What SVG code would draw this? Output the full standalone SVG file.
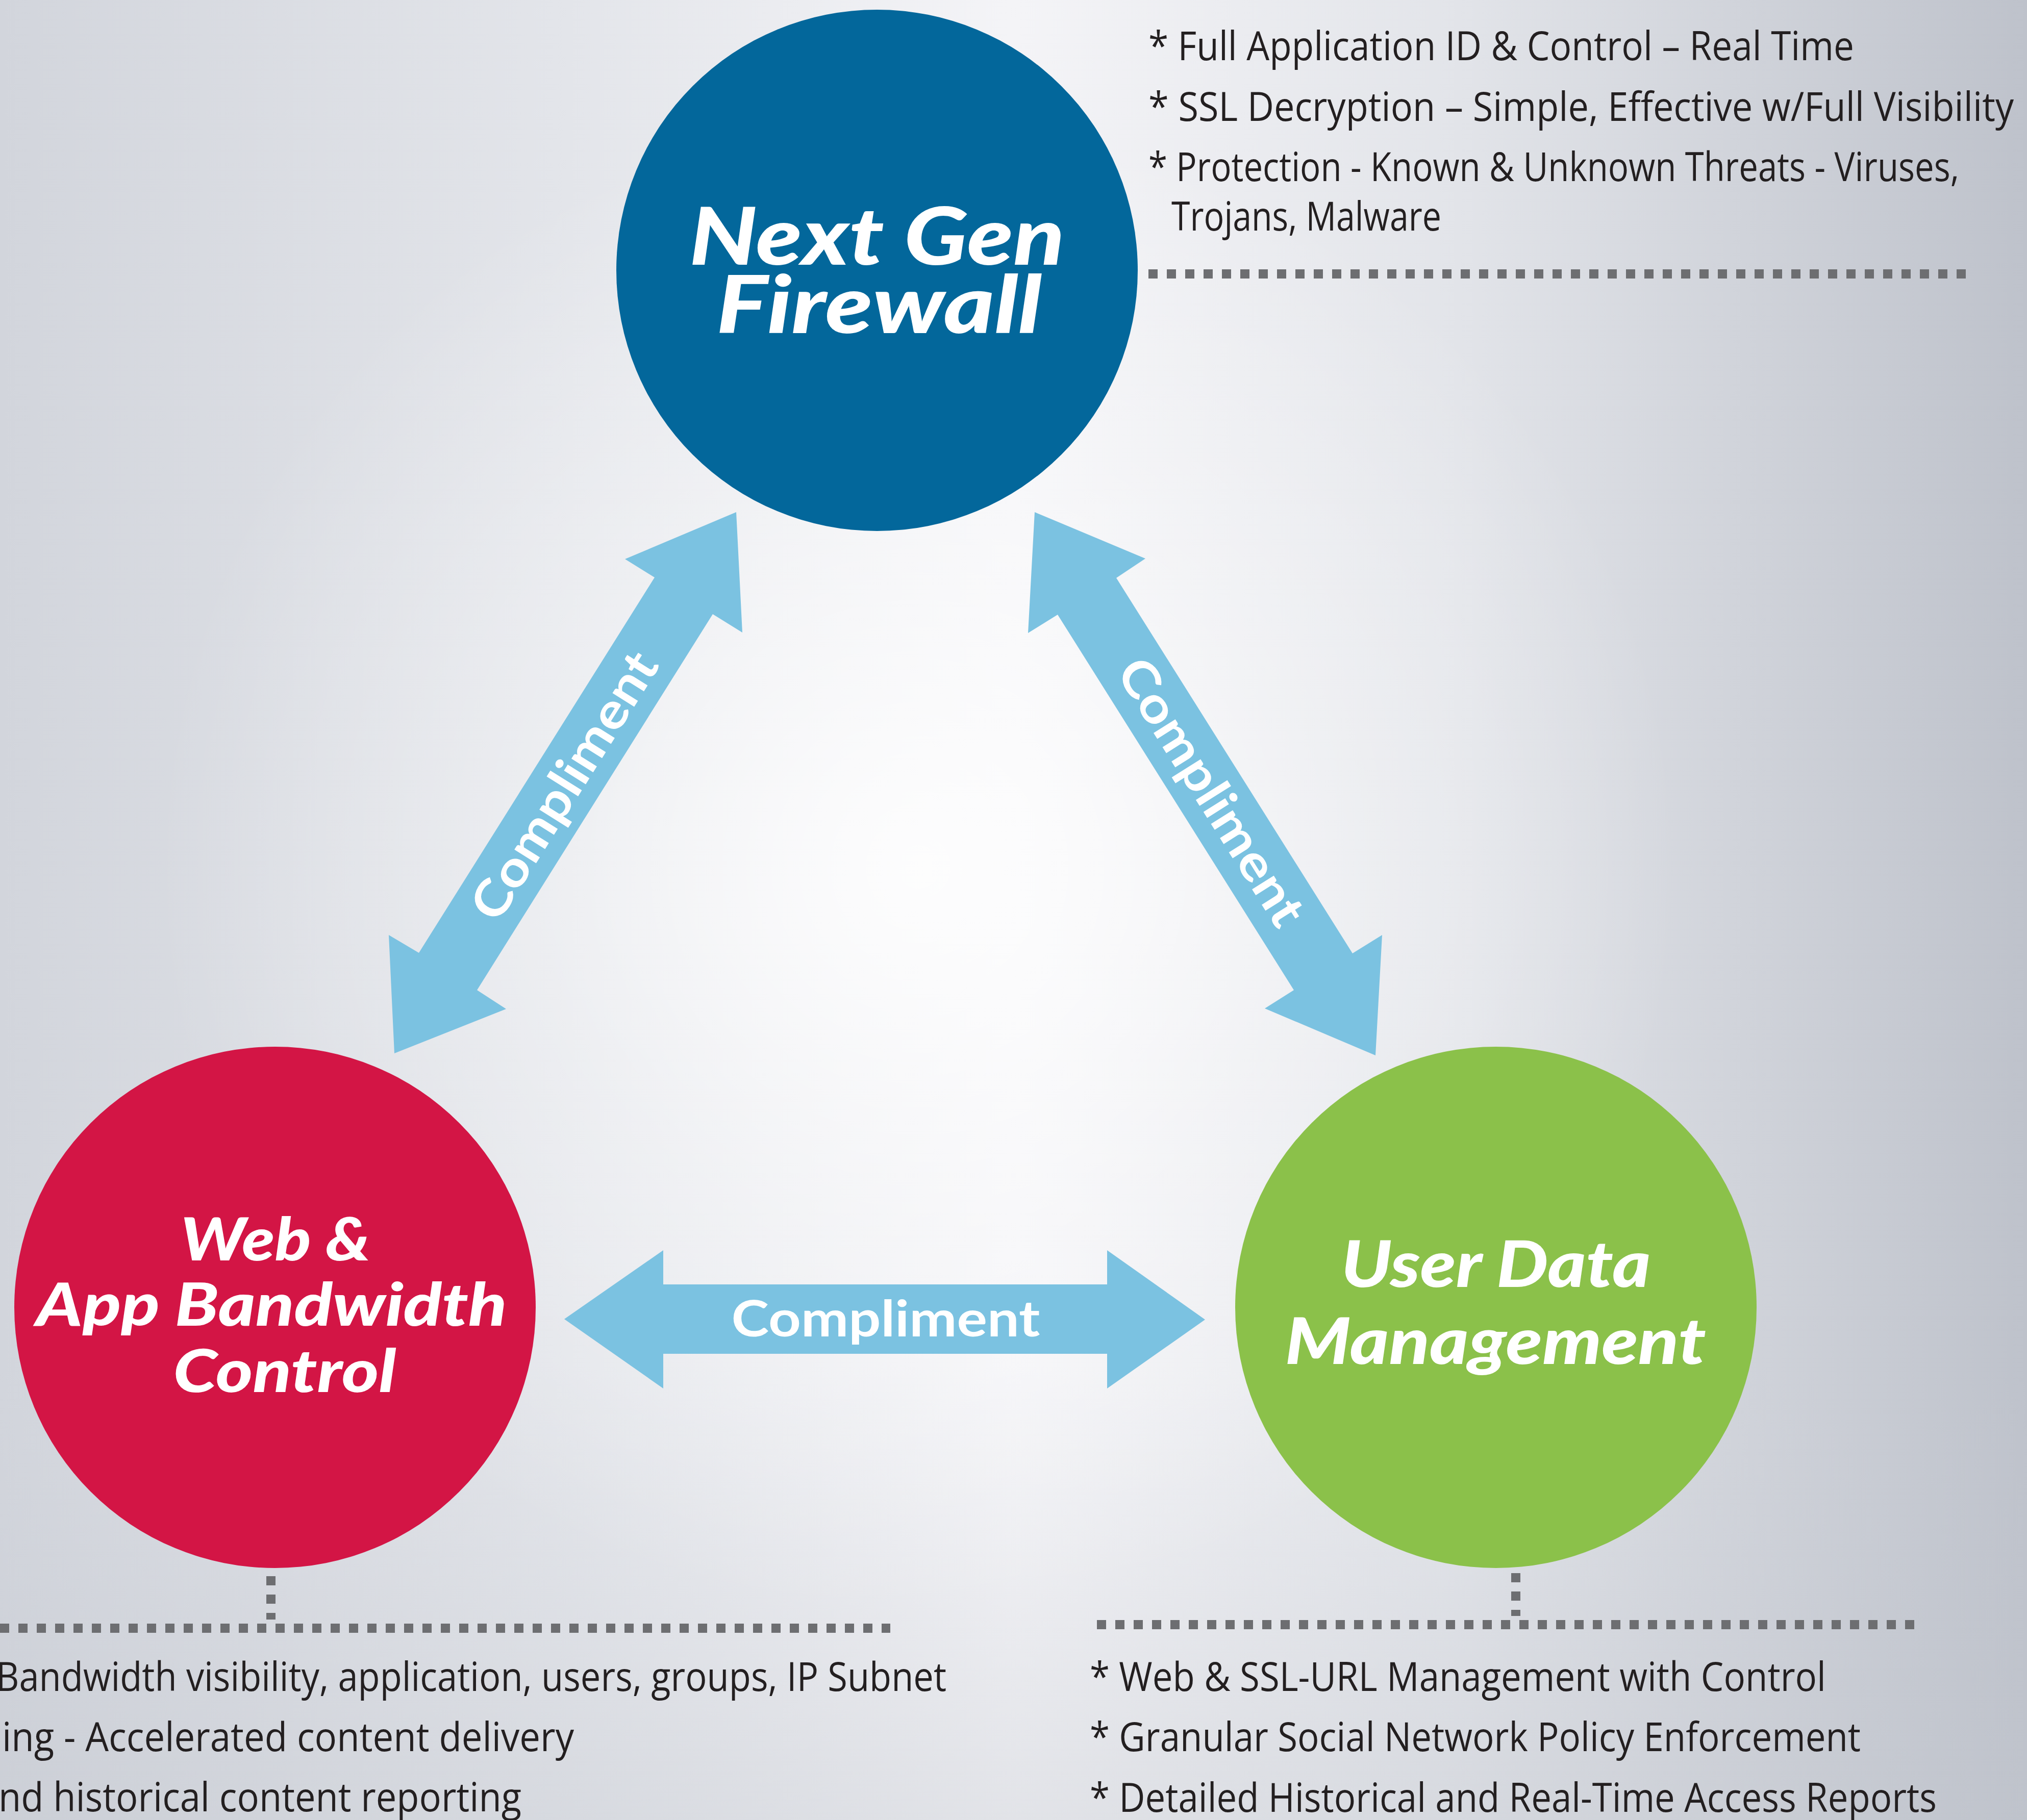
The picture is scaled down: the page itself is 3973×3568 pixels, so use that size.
<svg xmlns="http://www.w3.org/2000/svg" width="3973" height="3568" viewBox="0 0 3973 3568">
  <defs>
    <linearGradient id="bgH" x1="0" y1="0" x2="1" y2="0">
      <stop offset="0" stop-color="#d2d5dc"/>
      <stop offset="0.28" stop-color="#e3e5ea"/>
      <stop offset="0.5" stop-color="#f4f4f7"/>
      <stop offset="0.72" stop-color="#e2e4e9"/>
      <stop offset="1" stop-color="#bec2cb"/>
    </linearGradient>
    <radialGradient id="bgGlow" cx="1800" cy="1700" r="1500" gradientUnits="userSpaceOnUse">
      <stop offset="0" stop-color="#ffffff" stop-opacity="0.85"/>
      <stop offset="0.5" stop-color="#ffffff" stop-opacity="0.35"/>
      <stop offset="1" stop-color="#ffffff" stop-opacity="0"/>
    </radialGradient>
    <linearGradient id="bgV" x1="0" y1="0" x2="0" y2="1">
      <stop offset="0" stop-color="#c8ccd4" stop-opacity="0"/>
      <stop offset="0.75" stop-color="#c8ccd4" stop-opacity="0"/>
      <stop offset="1" stop-color="#c0c4cc" stop-opacity="0.35"/>
    </linearGradient>
    <style>
      .circleLabel { font-family: Lato, "Open Sans", "Liberation Sans", sans-serif; font-weight: 900; font-style: italic; fill: #ffffff; text-anchor: middle; }
      .arrowLabel { font-family: Lato, "Open Sans", "Liberation Sans", sans-serif; font-weight: 700; font-size: 98px; fill: #ffffff; text-anchor: middle; }
      .note { font-family: "Open Sans", "Noto Sans", "Liberation Sans", sans-serif; font-size: 78px; fill: #231f20; }
      .arrow { fill: #7bc2e1; }
      .dash { stroke: #6d6e71; stroke-width: 18; fill: none; stroke-dasharray: 18 18; }
    </style>
  </defs>

  <!-- background -->
  <rect x="0" y="0" width="3973" height="3568" fill="url(#bgH)"/>
  <rect x="0" y="0" width="3973" height="3568" fill="url(#bgGlow)"/>
  <rect x="0" y="0" width="3973" height="3568" fill="url(#bgV)"/>

  <!-- connectors -->
  <g id="connectors">
    <g id="arrow-ngfw-web">
      <polygon class="arrow" points="1443,1004 1455,1240 1397,1204 935,1941 992,1978 773,2065 762,1833 821,1868 1283,1132 1225,1096"/>
      <text class="arrowLabel" transform="translate(1105,1540) rotate(-57.9)" x="0" y="35" textLength="600" lengthAdjust="spacingAndGlyphs">Compliment</text>
    </g>
    <g id="arrow-ngfw-udm">
      <polygon class="arrow" points="2028,1004 2245,1095 2188,1133 2651,1869 2709,1833 2696,2069 2479,1977 2536,1941 2073,1205 2015,1241"/>
      <text class="arrowLabel" transform="translate(2375,1552) rotate(57.8)" x="0" y="35" textLength="600" lengthAdjust="spacingAndGlyphs">Compliment</text>
    </g>
    <g id="arrow-web-udm">
      <polygon class="arrow" points="1106,2586 1300,2451 1300,2518 2170,2518 2170,2451 2362,2587 2170,2722 2170,2654 1300,2654 1300,2722"/>
      <text class="arrowLabel" x="1736" y="2620" textLength="605" lengthAdjust="spacingAndGlyphs">Compliment</text>
    </g>
    <!-- dotted leader lines -->
    <line class="dash" x1="2251" y1="537" x2="3860" y2="537"/>
    <line class="dash" x1="531" y1="3090" x2="531" y2="3175"/>
    <line class="dash" x1="0" y1="3192" x2="1745" y2="3192"/>
    <line class="dash" x1="2971" y1="3084" x2="2971" y2="3168"/>
    <line class="dash" x1="2150" y1="3185" x2="3765" y2="3185"/>
  </g>

  <!-- nodes -->
  <g id="node-ngfw">
    <circle cx="1719" cy="530" r="511" fill="#03679b"/>
    <text class="circleLabel" x="1719" y="519" font-size="156" textLength="736" lengthAdjust="spacingAndGlyphs">Next Gen</text>
    <text class="circleLabel" x="1723" y="653" font-size="156" textLength="638" lengthAdjust="spacingAndGlyphs">Firewall</text>
  </g>

  <g id="node-web">
    <circle cx="539" cy="2563" r="511" fill="#d31545"/>
    <text class="circleLabel" x="540" y="2471" font-size="117" textLength="372" lengthAdjust="spacingAndGlyphs">Web &amp;</text>
    <text class="circleLabel" x="532" y="2599" font-size="117" textLength="923" lengthAdjust="spacingAndGlyphs">App Bandwidth</text>
    <text class="circleLabel" x="558" y="2729" font-size="117" textLength="437" lengthAdjust="spacingAndGlyphs">Control</text>
  </g>

  <g id="node-udm">
    <circle cx="2932" cy="2563" r="511" fill="#8bc14a"/>
    <text class="circleLabel" x="2932" y="2523" font-size="125" textLength="607" lengthAdjust="spacingAndGlyphs">User Data</text>
    <text class="circleLabel" x="2931" y="2674" font-size="125" textLength="825" lengthAdjust="spacingAndGlyphs">Management</text>
  </g>

  <!-- notes -->
  <g id="notes-ngfw">
    <text class="note" x="2251" y="118" textLength="1383" lengthAdjust="spacingAndGlyphs">* Full Application ID &amp; Control – Real Time</text>
    <text class="note" x="2251" y="237" textLength="1696" lengthAdjust="spacingAndGlyphs">* SSL Decryption – Simple, Effective w/Full Visibility</text>
    <text class="note" x="2251" y="355" textLength="1589" lengthAdjust="spacingAndGlyphs">* Protection - Known &amp; Unknown Threats - Viruses,</text>
    <text class="note" x="2296" y="452" textLength="529" lengthAdjust="spacingAndGlyphs">Trojans, Malware</text>
  </g>

  <g id="notes-web">
    <text class="note" x="-8" y="3315" textLength="1863" lengthAdjust="spacingAndGlyphs">Bandwidth visibility, application, users, groups, IP Subnet</text>
    <text class="note" x="4" y="3433" textLength="1121" lengthAdjust="spacingAndGlyphs">ing - Accelerated content delivery</text>
    <text class="note" x="-3" y="3551" textLength="1025" lengthAdjust="spacingAndGlyphs">nd historical content reporting</text>
  </g>

  <g id="notes-udm">
    <text class="note" x="2136" y="3315" textLength="1443" lengthAdjust="spacingAndGlyphs">* Web &amp; SSL-URL Management with Control</text>
    <text class="note" x="2136" y="3433" textLength="1511" lengthAdjust="spacingAndGlyphs">* Granular Social Network Policy Enforcement</text>
    <text class="note" x="2136" y="3552" textLength="1660" lengthAdjust="spacingAndGlyphs">* Detailed Historical and Real-Time Access Reports</text>
  </g>
</svg>
